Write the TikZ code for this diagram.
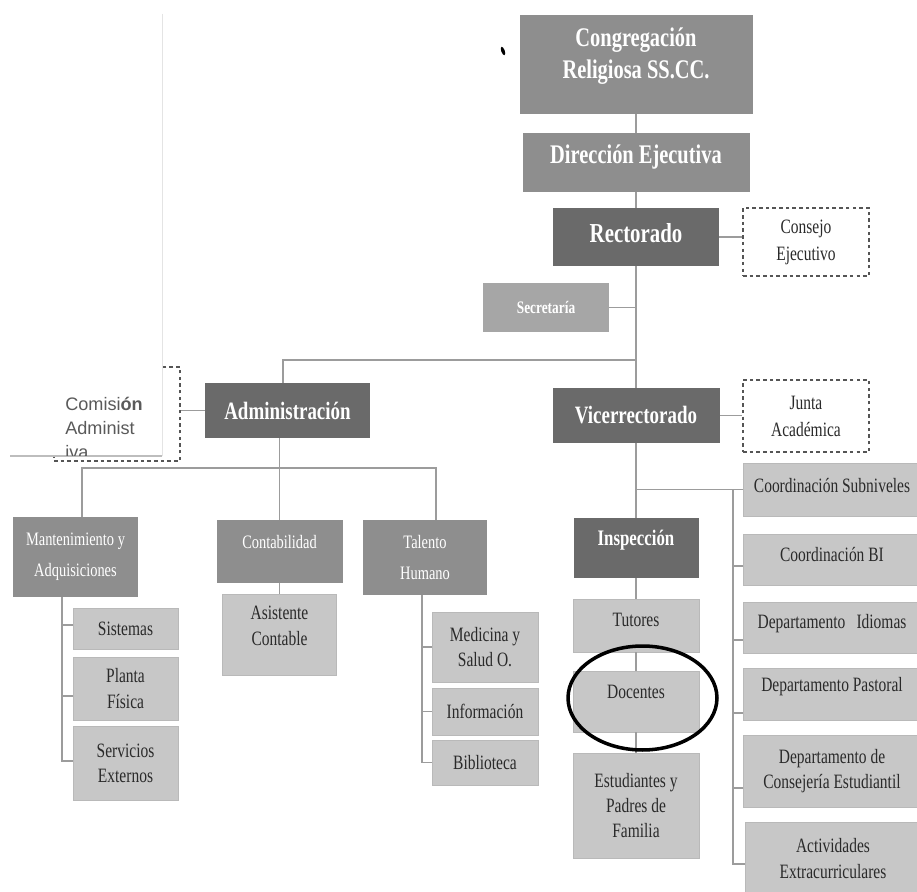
\documentclass[tikz,border=0pt]{standalone}
\usepackage{fontspec}
\setmainfont{Liberation Serif}[FakeStretch=0.76]
\newfontfamily\comfont{Liberation Sans}
\definecolor{cDark}{HTML}{6A6A6A}
\definecolor{cMid}{HTML}{8E8E8E}
\definecolor{cSec}{HTML}{A6A6A6}
\definecolor{cLight}{HTML}{C7C7C7}
\definecolor{cLightB}{HTML}{B9B9B9}
\definecolor{cTxt}{HTML}{2A2A2A}
\definecolor{cLine}{HTML}{9C9C9C}
\definecolor{cDash}{HTML}{555555}
\definecolor{cCom}{HTML}{5A5A5A}
\definecolor{cOvV}{HTML}{E4E4E4}
\definecolor{cOvH}{HTML}{BDBDBD}
\newcommand\up[2]{\raisebox{#1}[\height][\depth]{#2}}
\newcommand\ml[1]{\begin{tabular}{@{}c@{}}#1\end{tabular}}
\tikzset{
  sz/.style 2 args={minimum width=#1*0.02cm, minimum height=#2*0.02cm},
  box/.style={rectangle, inner sep=0pt, align=center},
  dkbox/.style={box, fill=cDark, text=white, font=\bfseries\fontsize{14.2pt}{17pt}\selectfont},
  topbox/.style={box, fill=cMid, text=white},
  midbox/.style={box, fill=cMid, text=white, font=\fontsize{10.8pt}{17.6pt}\selectfont},
  ltbox/.style={box, fill=cLight, draw=cLightB, line width=0.4pt, text=cTxt, font=\fontsize{11.6pt}{14.4pt}\selectfont},
  dbox/.style={box, draw=cDash, line width=0.7pt, dash pattern=on 2pt off 1.8pt, fill=white, text=cTxt, font=\fontsize{11.6pt}{15.3pt}\selectfont},
  conn/.style={draw=cLine, line width=0.9pt},
  comtxt/.style={anchor=base west, inner sep=0pt, text=cCom, font=\comfont\fontsize{10.3pt}{13.6pt}\selectfont}
}
\begin{document}
\begin{tikzpicture}[x=0.02cm,y=-0.02cm]
\useasboundingbox (0,0) rectangle (917,892);
\clip (0,0) rectangle (917,892);
\fill[white] (0,0) rectangle (917,892);

% top chain
\node[topbox, sz={233}{99}, font=\bfseries\fontsize{15.3pt}{18pt}\selectfont] (cong) at (636,64.5) {\up{4.8pt}{\ml{Congregación\\Religiosa SS.CC.}}};
\node[topbox, sz={227}{59}, font=\bfseries\fontsize{15.3pt}{17pt}\selectfont] (dir) at (636,162.5) {\up{3pt}{Dirección Ejecutiva}};
\node[dkbox, sz={166}{58}, font=\bfseries\fontsize{15.6pt}{18pt}\selectfont] (rect) at (636,237) {\up{2pt}{Rectorado}};
\node[dbox, sz={126}{68}] (cons) at (806,242) {Consejo\\Ejecutivo};
\node[box, fill=cSec, text=white, sz={126}{49}, font=\bfseries\fontsize{10pt}{12pt}\selectfont] (secr) at (546,307.5) {Secretaría};
\node[dkbox, sz={167}{55}] (vice) at (636,415.5) {Vicerrectorado};
\node[dbox, sz={126}{72}] (junta) at (806,416) {Junta\\Académica};
\node[dkbox, sz={165}{55}] (admin) at (287.5,410.5) {Administración};
\node[dbox, sz={126}{94}] (comb) at (117,414) {};

% administration branch
\node[midbox, sz={125}{80}] (mant) at (75.5,557) {Mantenimiento y\\Adquisiciones};
\node[midbox, sz={126}{63}] (cont) at (279.5,551.5) {\up{5.4pt}{Contabilidad}};
\node[midbox, sz={124}{75}] (tal) at (425,557.5) {Talento\\Humano};
\node[ltbox, sz={114}{81}] (asis) at (279.5,634.5) {\up{4pt}{\ml{Asistente\\Contable}}};
\node[ltbox, sz={105}{41}] (sis) at (125.5,628.5) {Sistemas};
\node[ltbox, sz={105}{63}] (planta) at (125.5,688.5) {Planta\\Física};
\node[ltbox, sz={105}{74}] (serv) at (125.5,763) {Servicios\\Externos};
\node[ltbox, sz={106}{70}] (med) at (485,647) {Medicina y\\Salud O.};
\node[ltbox, sz={106}{47}] (info) at (485,711.5) {Información};
\node[ltbox, sz={106}{45}] (bib) at (485,762.5) {Biblioteca};

% vicerrectorado branch
\node[dkbox, sz={125}{60}, font=\bfseries\fontsize{12.6pt}{15pt}\selectfont] (insp) at (636,548) {\up{4.5pt}{Inspección}};
\node[ltbox, sz={126}{53}] (tut) at (636,625.5) {\up{3pt}{Tutores}};
\node[ltbox, sz={126}{61}] (doc) at (636,701.5) {\up{5.7pt}{Docentes}};
\node[ltbox, sz={126}{105}] (est) at (636,805.5) {Estudiantes y\\Padres de\\Familia};
\node[ltbox, sz={178}{53}] (csub) at (832,489.5) {\up{2.5pt}{Coordinación Subniveles}};
\node[ltbox, sz={178}{51}] (cbi) at (832,559.5) {\up{3pt}{Coordinación BI}};
\node[ltbox, sz={178}{51}] (did) at (832,627.5) {\up{2.5pt}{Departamento\hspace{0.55em}Idiomas}};
\node[ltbox, sz={178}{52}] (dpa) at (832,694) {\up{4pt}{Departamento Pastoral}};
\node[ltbox, sz={178}{72}] (dce) at (832,771) {Departamento de\\Consejería Estudiantil};
\node[ltbox, sz={176}{73}] (act) at (833,858.5) {Actividades\\Extracurriculares};

% connectors: top chain
\draw[conn] (cong) -- (dir);
\draw[conn] (dir) -- (rect);
\draw[conn] (rect) -- (vice);
\draw[conn] (rect.east) -- (rect.east -| cons.west);
\draw[conn] (secr.east) -- (secr.east -| rect.south);
\draw[conn] (vice.east) -- (vice.east -| junta.west);
\coordinate (j1) at (636,360);
\draw[conn] (j1) -| ([xshift=-0.09cm]admin.north);
\draw[conn] (admin.west) -- (admin.west -| comb.east);

% administration connectors
\coordinate (j2) at (279.5,468);
\draw[conn] (admin.south -| cont.north) -- (cont.north);
\draw[conn] ([xshift=0.13cm]mant.north) |- (j2) -| ([xshift=0.22cm]tal.north);
\draw[conn] (cont) -- (asis);
\draw[conn] ([xshift=-0.27cm]mant.south) |- ([yshift=0.04cm]serv.west);
\draw[conn] ([yshift=0.07cm]sis.west) -- ++(-11,0);
\draw[conn] ([yshift=-0.15cm]planta.west) -- ++(-11,0);
\draw[conn] ([xshift=-0.06cm]tal.south) |- (bib.west);
\draw[conn] (med.west) -- ++(-10,0);
\draw[conn] (info.west) -- ++(-10,0);

% vicerrectorado connectors
\draw[conn] (vice) -- (insp);
\draw[conn] (insp) -- (tut);
\draw[conn] (tut) -- (doc);
\draw[conn] (doc) -- (est);
\coordinate (h3) at (636,489.5);
\coordinate (rb) at (733,489.5);
\draw[conn] (h3) -- (csub.west);
\draw[conn] (rb) |- ([yshift=-0.11cm]act.west);
\draw[conn] ([yshift=-0.13cm]cbi.west) -- ++(-10,0);
\draw[conn] ([yshift=-0.25cm]did.west) -- ++(-10,0);
\draw[conn] ([yshift=-0.38cm]dpa.west) -- ++(-10,0);
\draw[conn] ([yshift=-0.34cm]dce.west) -- ++(-10,0);

% hand-drawn ellipse around Docentes
\draw[black, line width=2pt] (642.5,698) ellipse [x radius=1.49cm, y radius=1.04cm];
% scan speck
\fill[black, rotate around={20:(503,51)}] (503,51) ellipse [x radius=0.035cm, y radius=0.09cm];

% white overlay with Comisión text
\fill[white] (10,14) rectangle (162,456);
\draw[cOvV, line width=0.5pt] (162,14) -- (162,456);
\draw[cOvH, line width=0.6pt] (162,456) -- (10,456);
\begin{scope}
\clip (10,14) rectangle (162,455.3);
\node[comtxt] (comt1) at (65,410) {Comisi\textbf{ón}};
\node[comtxt] (comt2) at (65,434) {Administ};
\node[comtxt] (comt3) at (65,458) {iva};
\end{scope}
\end{tikzpicture}
\end{document}
